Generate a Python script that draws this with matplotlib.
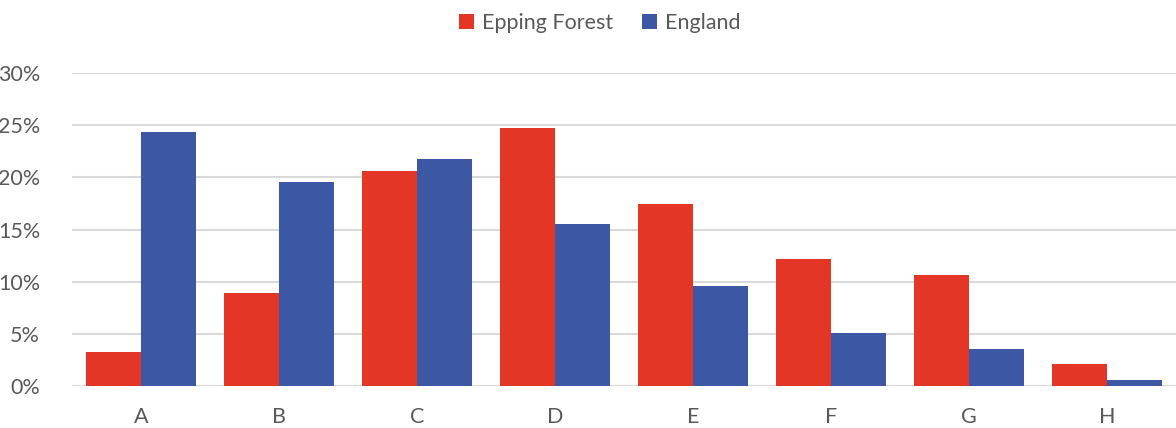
import matplotlib
matplotlib.use("Agg")
import matplotlib.pyplot as plt
import numpy as np

# data
categories = ["A", "B", "C", "D", "E", "F", "G", "H"]
epping_forest = [3.3, 8.9, 20.65, 24.7, 17.4, 12.2, 10.65, 2.1]
england = [24.35, 19.6, 21.8, 15.5, 9.55, 5.05, 3.5, 0.6]
y_ticks = [0, 5, 10, 15, 20, 25, 30]

RED = "#E33626"
BLUE = "#3C57A3"
GREY = "#595959"

plt.rcParams["font.family"] = ["Lato", "DejaVu Sans"]

fig = plt.figure(figsize=(11.76, 4.28), dpi=100)
ax = fig.add_axes([72 / 1176, 1 - 386 / 428, 1104 / 1176, 313 / 428])

x = np.arange(len(categories))
w = 0.4
ax.bar(x - w / 2, epping_forest, width=w, color=RED, label="Epping Forest", zorder=3)
ax.bar(x + w / 2, england, width=w, color=BLUE, label="England", zorder=3)

ax.set_xlim(-0.5, len(categories) - 0.5)
ax.set_ylim(0, 30)
ax.set_yticks(y_ticks)
ax.set_yticklabels([f"{t}%" for t in y_ticks])
ax.set_xticks(x)
ax.set_xticklabels(categories)

ax.grid(axis="y", color="#D9D9D9", linewidth=1.5, zorder=0)
for s in ax.spines.values():
    s.set_visible(False)
ax.tick_params(axis="both", length=0, colors=GREY, labelsize=15.5)
ax.tick_params(axis="x", pad=15)
ax.tick_params(axis="y", pad=23)

fig.legend(loc="upper center", bbox_to_anchor=(0.51, 1.015), ncol=2, frameon=False,
           fontsize=15.5, handlelength=0.7, handleheight=0.7, columnspacing=1.3,
           handletextpad=0.4, labelcolor=GREY)

fig.savefig("out.png", dpi=100)
